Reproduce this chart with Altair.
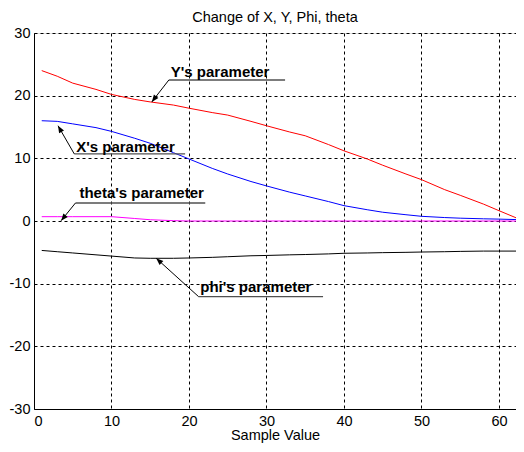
import altair as alt
import pandas as pd

# ---- data ----
samples = [1, 3, 5, 8, 10, 13, 15, 18, 20, 23, 25, 28, 30, 33, 35, 38, 40, 43, 45, 48, 50, 53, 55, 58, 60, 63]
y_param = [24.0, 23.1, 22.0, 21.0, 20.2, 19.4, 19.0, 18.5, 18.0, 17.3, 16.9, 15.9, 15.2, 14.2, 13.6, 12.2,
           11.2, 9.9, 8.9, 7.5, 6.6, 5.0, 4.1, 2.7, 1.65, 0.1]
x_param = [16.0, 15.9, 15.5, 14.9, 14.3, 13.2, 12.4, 10.9, 9.9, 8.4, 7.5, 6.3, 5.6, 4.6, 4.0, 3.1,
           2.45, 1.8, 1.4, 1.0, 0.75, 0.55, 0.45, 0.35, 0.3, 0.2]
theta_param = [0.69, 0.69, 0.69, 0.69, 0.69, 0.4, 0.2, 0.05, 0.0, 0.0, 0.0, 0.0, 0.0, 0.0, 0.0, 0.0,
               0.0, 0.0, 0.0, 0.0, 0.0, 0.0, 0.0, 0.0, 0.0, 0.0]
phi_param = [-4.7, -4.9, -5.1, -5.4, -5.6, -5.9, -5.95, -5.95, -5.9, -5.8, -5.7, -5.55, -5.5, -5.4, -5.35,
             -5.25, -5.15, -5.1, -5.05, -5.0, -4.95, -4.9, -4.85, -4.8, -4.8, -4.8]

series_names = ["Y", "X", "theta", "phi"]
series_colors = ["#ff0000", "#0000ff", "#ff00ff", "#000000"]

ann_labels = ["Y's parameter", "X's parameter", "theta's parameter", "phi's parameter"]
ann_text_x = [17.65, 5.44, 5.86, 21.46]
ann_text_y = [23.8, 11.75, 4.47, -10.48]
ann_line_x1 = [17.4, 5.2, 5.35, 21.24]
ann_line_x2 = [32.4, 19.5, 22.1, 37.3]
ann_line_y = [22.5, 10.7, 2.87, -12.07]
ann_tip_x = [15.2, 3.1, 3.5, 15.77]
ann_tip_y = [19.0, 15.2, 0.05, -5.95]
ann_angle = [218, 330, 219, 312]

x_ticks = [0, 10, 20, 30, 40, 50, 60]
y_ticks = [-30, -20, -10, 0, 10, 20, 30]

# ---- tables ----
rows = []
for name, vals in zip(series_names, [y_param, x_param, theta_param, phi_param]):
    for s, v in zip(samples, vals):
        rows.append({"sample": s, "value": v, "series": name})
df = pd.DataFrame(rows)

ann = pd.DataFrame({
    "label": ann_labels, "tx": ann_text_x, "ty": ann_text_y,
    "lx1": ann_line_x1, "lx2": ann_line_x2, "ly": ann_line_y,
    "px": ann_tip_x, "py": ann_tip_y, "angle": ann_angle,
})

FONT = "Liberation Sans"
FS = 14.5
xscale = alt.Scale(domain=[0, 62.2], nice=False, zero=False)
yscale = alt.Scale(domain=[-30, 30], nice=False, zero=False)

lines = alt.Chart(df).mark_line(strokeWidth=1, clip=True).encode(
    x=alt.X("sample:Q", scale=xscale,
            axis=alt.Axis(values=x_ticks, title="Sample Value", grid=True, gridDash=[3, 3],
                          gridColor="black", gridOpacity=1, domainColor="black", ticks=False,
                          labelPadding=5, labelFont=FONT, labelFontSize=FS, labelColor="black",
                          labelExpr="'' + datum.value",
                          titleFont=FONT, titleFontSize=FS, titleFontWeight="normal",
                          titleColor="black", titlePadding=1)),
    y=alt.Y("value:Q", scale=yscale,
            axis=alt.Axis(values=y_ticks, title=None, grid=True, gridDash=[3, 3],
                          gridColor="black", gridOpacity=1, domainColor="black", ticks=False,
                          labelPadding=4, labelFont=FONT, labelFontSize=FS, labelColor="black",
                          labelExpr="'' + datum.value")),
    color=alt.Color("series:N", scale=alt.Scale(domain=series_names, range=series_colors), legend=None),
    detail="series:N",
)

underline = alt.Chart(ann).mark_rule(color="#505050", strokeWidth=1.3).encode(
    x=alt.X("lx1:Q", scale=xscale), x2="lx2:Q", y=alt.Y("ly:Q", scale=yscale))

arrow_line = alt.Chart(ann).mark_rule(color="black", strokeWidth=1).encode(
    x=alt.X("lx1:Q", scale=xscale), x2="px:Q", y=alt.Y("ly:Q", scale=yscale), y2="py:Q")

arrow_head = alt.Chart(ann).mark_point(
    shape="M0,0L-0.4,1L0.4,1Z", filled=True, color="black", opacity=1, size=200, strokeWidth=0
).encode(
    x=alt.X("px:Q", scale=xscale), y=alt.Y("py:Q", scale=yscale), angle=alt.Angle("angle:Q", scale=None))

texts = alt.Chart(ann).mark_text(
    align="left", baseline="middle", font=FONT, fontSize=15, fontWeight="bold", color="black"
).encode(x=alt.X("tx:Q", scale=xscale), y=alt.Y("ty:Q", scale=yscale), text="label:N")

chart = alt.layer(lines, underline, arrow_line, arrow_head, texts).properties(
    width=482, height=376,
    title=alt.TitleParams("Change of X, Y, Phi, theta", font=FONT, fontSize=FS, fontWeight="normal",
                          color="black", offset=0, anchor="middle"),
    autosize=alt.AutoSizeParams(type="none"),
    padding={"left": 26, "top": 25, "right": 0, "bottom": 35},
).configure_view(stroke="black", strokeWidth=1).configure(background="white")

chart.save("out.html", embed_options={"renderer": "svg", "actions": False})
